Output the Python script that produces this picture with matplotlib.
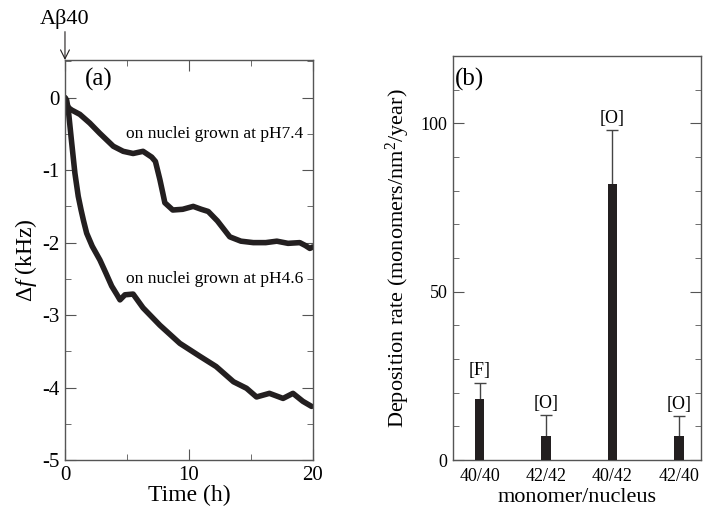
import matplotlib
matplotlib.use("Agg")
import matplotlib.pyplot as plt
from matplotlib.ticker import MultipleLocator

plt.rcParams['font.family'] = ['Liberation Serif', 'DejaVu Serif']
plt.rcParams['mathtext.fontset'] = 'custom'
plt.rcParams['mathtext.rm'] = 'Liberation Serif'
plt.rcParams['mathtext.it'] = 'Liberation Serif:italic'
plt.rcParams['axes.unicode_minus'] = False

# (a) frequency shift curves
t_ph74 = [0, 0.1, 0.3, 0.54, 1.2, 2.0, 2.8, 3.9, 4.7, 5.5, 6.3, 7.0, 7.3, 7.66, 7.9,
          8.06, 8.7, 9.5, 10.35, 11.0, 11.56, 12.3, 13.3, 14.2, 15.2, 16.2,
          17.1, 18.0, 18.95, 19.4, 19.76, 20.0]
f_ph74 = [0, -0.08, -0.14, -0.17, -0.23, -0.35, -0.49, -0.67, -0.74, -0.77, -0.74,
          -0.82, -0.88, -1.13, -1.32, -1.45, -1.55, -1.54, -1.50, -1.54, -1.57,
          -1.70, -1.92, -1.98, -2.00, -2.00, -1.98, -2.01, -2.00, -2.04, -2.08, -2.06]

t_ph46 = [0, 0.13, 0.27, 0.54, 0.8, 1.07, 1.3, 1.5, 1.75, 2.2, 2.82, 3.3, 3.77, 4.2,
          4.44, 4.84, 5.5, 6.3, 7.66, 9.27, 10.9, 12.2, 13.6, 14.65, 15.46, 16.5,
          17.6, 18.4, 19.2, 19.9]
f_ph46 = [0, -0.03, -0.17, -0.62, -1.04, -1.36, -1.55, -1.70, -1.87, -2.05, -2.24,
          -2.42, -2.60, -2.72, -2.79, -2.72, -2.71, -2.90, -3.14, -3.39, -3.57,
          -3.71, -3.92, -4.01, -4.13, -4.08, -4.15, -4.08, -4.19, -4.26]

# (b) deposition rates
pairs = ['40/40', '42/42', '40/42', '42/40']
rates = [18, 7, 82, 7]
rate_err = [5, 6.3, 16, 6]
morph = ['[F]', '[O]', '[O]', '[O]']

ink = '#231f20'

fig = plt.figure(figsize=(7.04, 5.13), dpi=100)

ax1 = fig.add_axes([0.0923, 0.1033, 0.352, 0.7797])
ax1.plot(t_ph74, f_ph74, color=ink, lw=4, solid_capstyle='round', solid_joinstyle='round')
ax1.plot(t_ph46, f_ph46, color=ink, lw=4, solid_capstyle='round', solid_joinstyle='round')
ax1.set_xlim(0, 20)
ax1.set_ylim(-5, 0.52)
ax1.xaxis.set_major_locator(MultipleLocator(10))
ax1.xaxis.set_minor_locator(MultipleLocator(5))
ax1.yaxis.set_major_locator(MultipleLocator(1))
ax1.yaxis.set_minor_locator(MultipleLocator(0.5))
ax1.set_yticks([0, -1, -2, -3, -4, -5])
ax1.set_yticklabels(['0', '-1', '-2', '-3', '-4', '-5'])
ax1.set_xlabel('Time (h)', fontsize=17, labelpad=0)
ax1.set_ylabel(r'$\Delta\mathit{f}$ (kHz)', fontsize=17, labelpad=2)
ax1.text(19.2, -0.5, 'on nuclei grown at pH7.4', fontsize=12.5, ha='right', va='center')
ax1.text(19.2, -2.5, 'on nuclei grown at pH4.6', fontsize=12.5, ha='right', va='center')
ax1.text(1.6, 0.25, '(a)', fontsize=18, ha='left', va='center')
ax1.annotate('A\u03b240', xy=(0, 0.52), xytext=(0, 0.95), xycoords='data',
             fontsize=16, ha='center', va='bottom', annotation_clip=False,
             arrowprops=dict(arrowstyle='->', color=ink, lw=0.8, shrinkA=0, shrinkB=0))

ax2 = fig.add_axes([0.6435, 0.1033, 0.352, 0.7875])
xs = list(range(len(pairs)))
tops = [r + e for r, e in zip(rates, rate_err)]
ax2.bar(xs, rates, width=0.14, color=ink, zorder=3)
# one-sided error bars, cap only at the top
ax2.vlines(xs, rates, tops, color='#444444', lw=1, zorder=2)
ax2.plot(xs, tops, ls='none', marker='_', ms=9, mew=1, color='#444444', zorder=2)
for x, t, m in zip(xs, tops, morph):
    ax2.text(x, t + 1, m, fontsize=13, ha='center', va='bottom')
ax2.set_xlim(-0.4, 3.33)
ax2.set_ylim(0, 120)
ax2.set_xticks(xs)
ax2.set_xticklabels(pairs, fontsize=13)
ax2.yaxis.set_major_locator(MultipleLocator(50))
ax2.yaxis.set_minor_locator(MultipleLocator(10))
ax2.set_xlabel('monomer/nucleus', fontsize=16, labelpad=2)
ax2.set_ylabel('Deposition rate (monomers/nm$^2$/year)', fontsize=16, labelpad=6)
ax2.text(-0.37, 113, '(b)', fontsize=18, ha='left', va='center')

for ax in (ax1, ax2):
    for s in ax.spines.values():
        s.set_color('#555555')
        s.set_linewidth(1)
    ax.tick_params(which='both', direction='in', top=True, right=True, color='#555555')
    ax.tick_params(which='major', length=8, labelsize=15, pad=4)
    ax.tick_params(which='minor', length=4)
ax2.tick_params(axis='y', labelsize=13)
ax2.tick_params(axis='x', which='both', length=0, labelsize=13, pad=6)

fig.savefig('out.png', dpi=100)
